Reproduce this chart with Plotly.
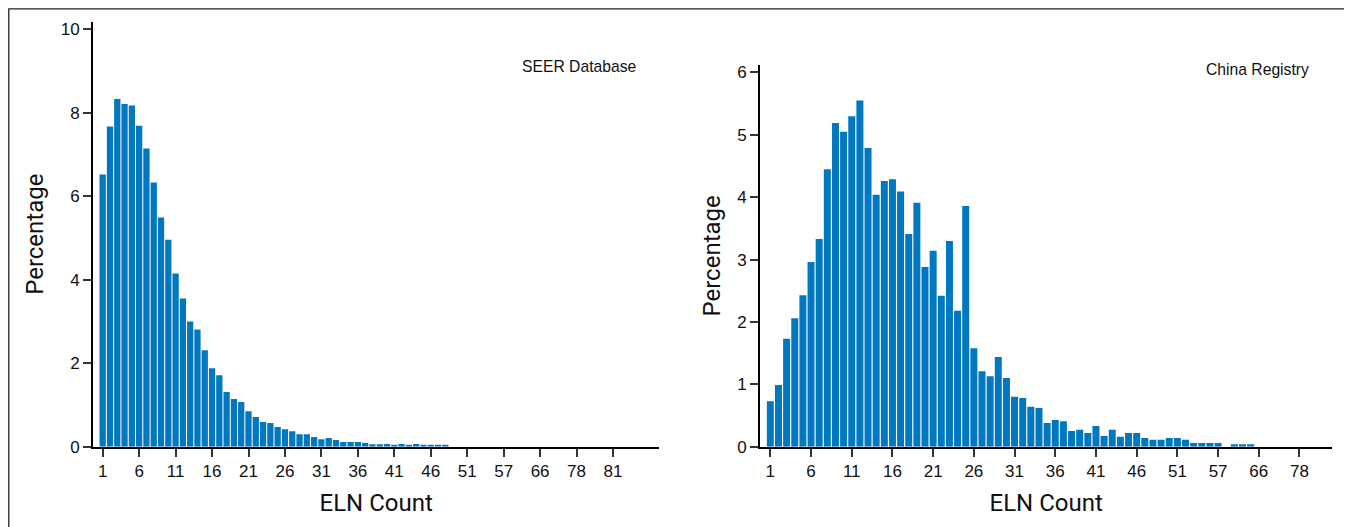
import plotly.graph_objects as go

# ---- data ----
seer_pct = [6.52, 7.67, 8.33, 8.21, 8.17, 7.69, 7.14, 6.33, 5.49, 4.96,
            4.15, 3.55, 3.00, 2.81, 2.31, 1.88, 1.71, 1.31, 1.14, 1.07,
            0.85, 0.71, 0.59, 0.57, 0.47, 0.42, 0.37, 0.30, 0.30, 0.23,
            0.18, 0.21, 0.16, 0.11, 0.11, 0.11, 0.09, 0.06, 0.06, 0.064,
            0.04, 0.064, 0.04, 0.064, 0.04, 0.04, 0.04, 0.04]
seer_ticks = ["1", "6", "11", "16", "21", "26", "31", "36", "41", "46",
              "51", "57", "66", "78", "81"]

china_pct = [0.73, 0.99, 1.73, 2.06, 2.43, 2.96, 3.33, 4.45, 5.19, 5.05,
             5.30, 5.55, 4.79, 4.04, 4.26, 4.29, 4.09, 3.41, 3.91, 2.88,
             3.14, 2.42, 3.30, 2.18, 3.86, 1.58, 1.21, 1.13, 1.44, 1.10,
             0.80, 0.78, 0.64, 0.62, 0.38, 0.43, 0.41, 0.25, 0.27, 0.22,
             0.33, 0.17, 0.27, 0.16, 0.22, 0.22, 0.14, 0.11, 0.11, 0.14,
             0.14, 0.11, 0.06, 0.06, 0.06, 0.06, 0.0, 0.04, 0.04, 0.04]
china_ticks = ["1", "6", "11", "16", "21", "26", "31", "36", "41", "46",
               "51", "57", "66", "78"]

panel_labels = ["SEER Database", "China Registry"]
x_title = "ELN Count"
y_title = "Percentage"

# ---- layout constants ----
OFF = 8                      # default page body margin
W, H = 1352 - OFF, 527 - OFF
BAR = "#0077bf"
TICK_FONT = dict(family="Liberation Sans, Arial, sans-serif", size=17, color="#111")
TITLE_FONT = dict(family="Roboto, Liberation Sans, sans-serif", size=24, color="#111")
LABEL_FONT = dict(family="Liberation Sans, Arial, sans-serif", size=15.7, color="#111")

def px_x(p):
    return (p - OFF) / W

def px_y(p):
    return 1 - (p - OFF) / H

fig = go.Figure()
fig.add_trace(go.Bar(x=list(range(len(seer_pct))), y=seer_pct, marker_color=BAR,
                     marker_line_width=0, xaxis="x", yaxis="y", showlegend=False))
fig.add_trace(go.Bar(x=list(range(len(china_pct))), y=china_pct, marker_color=BAR,
                     marker_line_width=0, xaxis="x2", yaxis="y2", showlegend=False))

axis_common = dict(showgrid=False, zeroline=False, showline=True, linecolor="#000",
                   linewidth=2, ticks="outside", ticklen=8, tickwidth=1.5,
                   tickcolor="#333", tickfont=TICK_FONT, automargin=False)

fig.update_layout(
    width=W, height=H,
    margin=dict(l=0, r=0, t=0, b=0),
    paper_bgcolor="white", plot_bgcolor="white",
    bargap=0.14,
    xaxis=dict(domain=[px_x(93), px_x(659.3)], range=[-1.33, 76.35],
               tickmode="array", tickvals=[5 * i for i in range(len(seer_ticks))],
               ticktext=seer_ticks, anchor="y",
               title=dict(text=x_title, font=TITLE_FONT, standoff=14), **axis_common),
    yaxis=dict(domain=[px_y(446.7), px_y(21.7)], range=[0, 10.18],
               tickmode="array", tickvals=[0, 2, 4, 6, 8, 10], anchor="x",
               title=dict(text=y_title, font=TITLE_FONT, standoff=10), **axis_common),
    xaxis2=dict(domain=[px_x(760), px_x(1332.3)], range=[-1.27, 69.03],
                tickmode="array", tickvals=[5 * i for i in range(len(china_ticks))],
                ticktext=china_ticks, anchor="y2",
                title=dict(text=x_title, font=TITLE_FONT, standoff=14), **axis_common),
    yaxis2=dict(domain=[px_y(446.7), px_y(65)], range=[0, 6.12],
                tickmode="array", tickvals=[0, 1, 2, 3, 4, 5, 6], anchor="x2",
                title=dict(text=y_title, font=TITLE_FONT, standoff=10), **axis_common),
    annotations=[
        dict(text=panel_labels[0], x=px_x(579), y=px_y(66.7), xref="paper", yref="paper",
             showarrow=False, xanchor="center", yanchor="middle", font=LABEL_FONT),
        dict(text=panel_labels[1], x=px_x(1257), y=px_y(70), xref="paper", yref="paper",
             showarrow=False, xanchor="center", yanchor="middle", font=LABEL_FONT),
    ],
    shapes=[dict(type="rect", xref="paper", yref="paper",
                 x0=0.8 / W, x1=px_x(1345), y0=-0.05, y1=1 - 0.8 / H,
                 line=dict(color="#222", width=1.3), fillcolor="rgba(0,0,0,0)")],
)

fig.write_html("out.html")
